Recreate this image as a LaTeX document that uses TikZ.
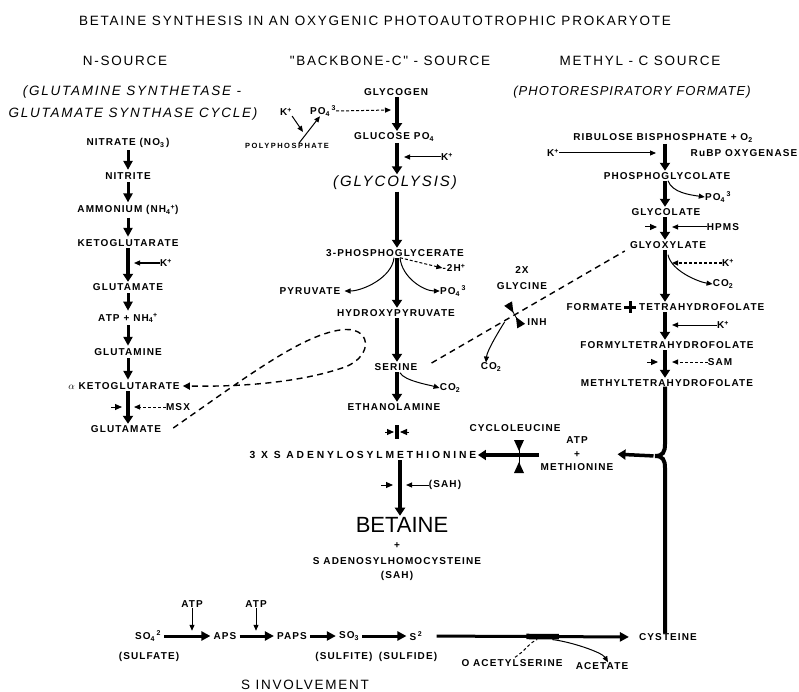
\documentclass[tikz,border=0pt]{standalone}
\usepackage{fontspec}
\setmainfont{Liberation Sans}
\newfontfamily\hfont[LetterSpace=13]{Liberation Sans}
\newfontfamily\ifont[LetterSpace=8]{Liberation Sans}
\newfontfamily\lfont[LetterSpace=11]{Liberation Sans}
\newfontfamily\wfont[LetterSpace=28]{Liberation Sans}
\newfontfamily\pfont[LetterSpace=20]{Liberation Sans}
\usetikzlibrary{arrows.meta,calc}
\newcommand\sbs[1]{\textsubscript{#1}}
\newcommand\sps[1]{\textsuperscript{#1}}
\begin{document}
\begin{tikzpicture}[x=1pt,y=-1pt,
  lab/.style={font=\lfont\bfseries\fontsize{10}{12}\selectfont, inner sep=0pt},
  widelab/.style={font=\wfont\bfseries\fontsize{10.3}{12}\selectfont, inner sep=0pt},
  hdr/.style={font=\hfont\fontsize{13.5}{16}\selectfont, inner sep=0pt},
  ital/.style={font=\hfont\itshape\fontsize{13.5}{16}\selectfont, inner sep=0pt},
  itm/.style={font=\ifont\itshape\fontsize{13}{16}\selectfont, inner sep=0pt},
  gly/.style={font=\hfont\itshape\fontsize{15}{18}\selectfont, inner sep=0pt},
  bigarr/.style={line width=3.5pt,-{Triangle[width=10pt,length=8pt]},shorten <=1.5pt,shorten >=1.5pt},
  narr/.style={line width=3pt,-{Triangle[width=9pt,length=9pt]},shorten <=2.5pt,shorten >=2.5pt},
  sarr/.style={line width=3pt,-{Triangle[width=9pt,length=9pt]},shorten <=3pt,shorten >=3pt},
  thinarr/.style={line width=1pt,-{Triangle[width=5pt,length=6pt]}},
  dasharr/.style={thinarr,dash pattern=on 3pt off 2pt},
  stub/.style={line width=1pt,-{Triangle[width=6pt,length=7pt]}},
  dline/.style={line width=1.4pt,dash pattern=on 6pt off 4.5pt},
]
\fill[white] (0,0) rectangle (799,692);
\useasboundingbox (0,0) rectangle (799,692);

% ---------- titles ----------
\node[hdr] (title) at (375,21) {BETAINE SYNTHESIS IN AN OXYGENIC PHOTOAUTOTROPHIC PROKARYOTE};
\node[hdr] (hN) at (125,61) {N-SOURCE};
\node[hdr] (hB) at (390,61) {"BACKBONE-C" - SOURCE};
\node[hdr] (hM) at (640,61) {METHYL - C SOURCE};
\node[ital] (sN1) at (132,92) {(GLUTAMINE SYNTHETASE -};
\node[ital] (sN2) at (133,114) {GLUTAMATE SYNTHASE CYCLE)};
\node[itm] (sM) at (632,92) {(PHOTORESPIRATORY FORMATE)};

% ---------- N column ----------
\coordinate (nx) at (128,0);
\node[lab] (nitrate) at (128,143) {NITRATE (NO\sbs{3}\,)};
\node[lab] (nitrite) at (128,176) {NITRITE};
\node[lab] (ammon) at (128,210) {AMMONIUM (NH\sbs{4}\sps{+})};
\node[lab] (keto) at (128,243) {KETOGLUTARATE};
\node[lab] (glu1) at (128,287) {GLUTAMATE};
\node[lab] (atpnh) at (128,318) {ATP + NH\sbs{4}\sps{+}};
\node[lab] (gln) at (128,352) {GLUTAMINE};
\node[lab] (akg) at (124,386) {$\alpha$ KETOGLUTARATE};
\node[lab] (glu2) at (126,429) {GLUTAMATE};
\node[lab] (kp2) at (166,263) {K\sps{+}};
\node[lab] (msx) at (178,407) {MSX};

\draw[narr] (nitrate.south -| nx) -- (nitrite.north -| nx);
\draw[narr] (nitrite.south -| nx) -- (ammon.north -| nx);
\draw[narr] (ammon.south -| nx) -- (keto.north -| nx);
\draw[bigarr] (keto.south -| nx) -- (glu1.north -| nx);
\draw[narr] (glu1.south -| nx) -- (atpnh.north -| nx);
\draw[narr] (atpnh.south -| nx) -- (gln.north -| nx);
\draw[narr] (gln.south -| nx) -- (akg.north -| nx);
\draw[bigarr] (akg.south -| nx) -- (glu2.north -| nx);
\coordinate (jk) at (134,263);
\draw[thinarr] (kp2.west) -- (jk);
\coordinate (jm) at (134,407);
\draw[dasharr] (msx.west) -- (jm);
\coordinate (sm1) at (111,407); \coordinate (sm2) at (122,407);
\draw[stub] (sm1) -- (sm2);

% ---------- backbone column ----------
\coordinate (bx) at (397,0);
\coordinate (bx2) at (400,0);
\node[lab] (glycogen) at (396,92) {GLYCOGEN};
\node[lab] (glucose) at (394,137) {GLUCOSE PO\sbs{4}};
\node[gly] (glycol) at (395,183) {(GLYCOLYSIS)};
\node[lab] (pga) at (395,253) {3-PHOSPHOGLYCERATE};
\node[lab] (pyr) at (310,291) {PYRUVATE};
\node[lab] (h2) at (454,268) {-2H\sps{+}};
\node[lab] (po4b) at (453,291) {PO\sbs{4}\,\sps{3}};
\node[lab] (hpyr) at (396,313) {HYDROXYPYRUVATE};
\node[lab] (ser) at (396,367) {SERINE};
\node[lab] (co2a) at (450,388) {CO\sbs{2}};
\node[lab] (etha) at (394,407) {ETHANOLAMINE};
\node[widelab] (sam) at (363,455) {3 X S ADENYLOSYLMETHIONINE};
\node[lab] (sah1) at (445,485) {(SAH)};
\node[font=\fontsize{22}{26}\selectfont, inner sep=0pt] (betaine) at (402,525) {BETAINE};
\node[lab] (plus1) at (397,546) {+};
\node[lab] (sahcy) at (397,561) {S ADENOSYLHOMOCYSTEINE};
\node[lab] (sah2) at (397,576) {(SAH)};
\node[lab] (kp6) at (447,157) {K\sps{+}};
\node[lab] (kp1) at (286,112) {K\sps{+}};
\node[lab] (po4a) at (323,111) {PO\sbs{4}\,\sps{3}};
\node[font=\pfont\bfseries\fontsize{7.5}{9}\selectfont, inner sep=0pt] (poly) at (287,146) {POLYPHOSPHATE};

\draw[bigarr] (glycogen.south -| bx) -- (glucose.north -| bx);
\draw[bigarr] (glucose.south -| bx) -- (glycol.north -| bx);
\draw[bigarr] (glycol.south -| bx) -- (pga.north -| bx);
\draw[bigarr] (pga.south -| bx) -- (hpyr.north -| bx);
\draw[bigarr] (hpyr.south -| bx) -- (ser.north -| bx);
\draw[bigarr] (ser.south -| bx) -- (etha.north -| bx);
\draw[bigarr] (sam.south -| bx2) -- (betaine.north -| bx2);
\coordinate (jg) at (404,157);
\draw[thinarr] (kp6.west) -- (jg);
\coordinate (jpo) at (391,110);
\draw[dasharr] (po4a.east) -- (jpo);
\coordinate (jpp) at (303,132);
\draw[thinarr] (kp1.south east) -- (jpp);
\draw[thinarr] ([xshift=12pt]poly.north) -- ([xshift=-3pt]po4a.south);
\draw[thinarr] ($(pga.south -| bx)+(-3,1)$) .. controls +(-2,20) and +(18,0) .. ([xshift=4pt]pyr.east);
\draw[dasharr] ($(pga.south -| bx)+(3,1)$) -- (h2.west);
\draw[thinarr] ($(pga.south -| bx)+(3,1)$) .. controls +(2,20) and +(-16,0) .. (po4b.west);
\draw[thinarr] ($(ser.south -| bx)+(3,2)$) .. controls +(4,8) and +(-10,-3) .. (co2a.west);
\coordinate (js) at (406,485);
\draw[thinarr] (sah1.west) -- (js);
\coordinate (ss1) at (381,485); \coordinate (ss2) at (393,485);
\draw[stub] (ss1) -- (ss2);
% blocked step below ethanolamine
\coordinate (cr) at (397,432);
\draw[line width=4pt] ($(cr)+(0,-7)$) -- ($(cr)+(0,7)$);
\draw[stub] ($(cr)+(-12,0)$) -- ($(cr)+(-3,0)$);
\draw[stub] ($(cr)+(12,0)$) -- ($(cr)+(3,0)$);

% ---------- methyl column ----------
\coordinate (mx) at (665,0);
\node[lab] (rubp) at (663,138) {RIBULOSE BISPHOSPHATE + O\sbs{2}};
\node[lab] (kp3) at (553,153) {K\sps{+}};
\node[lab] (rubpo) at (744,153) {RuBP OXYGENASE};
\node[lab] (pglyc) at (667,176) {PHOSPHOGLYCOLATE};
\node[lab] (po4c) at (718,197) {PO\sbs{4}\,\sps{3}};
\node[lab] (glyc) at (666,212) {GLYCOLATE};
\node[lab] (hpms) at (723,227) {HPMS};
\node[lab] (glyox) at (668,245) {GLYOXYLATE};
\node[lab] (kp4) at (728,263) {K\sps{+}};
\node[lab] (co2b) at (723,284) {CO\sbs{2}};
\coordinate (bp) at (630,307);
\node[lab,anchor=east] (formate) at (622,307) {FORMATE};
\node[lab,anchor=west] (thf) at (639,307) {TETRAHYDROFOLATE};
\node[lab] (kp5) at (723,325) {K\sps{+}};
\node[lab] (fthf) at (667,345) {FORMYLTETRAHYDROFOLATE};
\node[lab] (samr) at (720,362) {SAM};
\node[lab] (mthf) at (667,383) {METHYLTETRAHYDROFOLATE};

\draw[bigarr] (rubp.south -| mx) -- (pglyc.north -| mx);
\draw[bigarr] (pglyc.south -| mx) -- (glyc.north -| mx);
\draw[bigarr] (glyc.south -| mx) -- (glyox.north -| mx);
\draw[bigarr] (glyox.south -| mx) -- (thf.north -| mx);
\draw[bigarr] (thf.south -| mx) -- (fthf.north -| mx);
\draw[bigarr] (fthf.south -| mx) -- (mthf.north -| mx);
\coordinate (jr) at (656,153);
\draw[thinarr] (kp3.east) -- (jr);
\draw[thinarr] ($(pglyc.south -| mx)+(3,1)$) .. controls +(4,12) and +(-14,-2) .. (po4c.west);
\coordinate (jh) at (672,227);
\draw[thinarr] (hpms.west) -- (jh);
\coordinate (sh1) at (645,227); \coordinate (sh2) at (657,227);
\draw[stub] (sh1) -- (sh2);
\coordinate (jk4) at (672,263);
\draw[dasharr] (kp4.west) -- (jk4);
\draw[thinarr] ($(glyox.south -| mx)+(3,6)$) .. controls +(3,16) and +(-14,-2) .. (co2b.west);
\coordinate (jk5) at (672,325);
\draw[thinarr] (kp5.west) -- (jk5);
\coordinate (jsm) at (672,362);
\draw[dasharr] (samr.west) -- (jsm);
\coordinate (ss3) at (647,362); \coordinate (ss4) at (658,362);
\draw[stub] (ss3) -- (ss4);
\draw[line width=3pt] ($(bp)+(-6,0)$) -- ($(bp)+(6,0)$);
\draw[line width=3pt] ($(bp)+(0,-6)$) -- ($(bp)+(0,6)$);

% ---------- methionine, cycloleucine ----------
\node[lab,align=center] (atpm) at (577,454) {ATP\\[1.5pt]+\\[1.5pt]METHIONINE};
\node[lab] (cyclo) at (515,428) {CYCLOLEUCINE};
\node[lab] (cys) at (668,637) {CYSTEINE};
\coordinate (br1) at (665,444);
\coordinate (brj) at (655,456);
\coordinate (br2) at (665,468);
\draw[line width=4pt] (mthf.south -| mx) -- (br1) .. controls +(0,8) and +(8,0) .. (brj) .. controls +(8,0) and +(0,-8) .. (br2) -- (cys.north -| mx);
\draw[bigarr,shorten >=4pt] (brj) -- (atpm.east);
\draw[bigarr] (sam.east -| atpm.west) -- (sam.east);
\coordinate (cl) at (519,456);
\draw[line width=1pt] ($(cl)+(0,-15)$) -- ($(cl)+(0,16)$);
\fill ($(cl)+(-5,-16)$) -- ($(cl)+(5,-16)$) -- ($(cl)+(0,-5)$) -- cycle;
\fill ($(cl)+(-5,17)$) -- ($(cl)+(5,17)$) -- ($(cl)+(0,6)$) -- cycle;

% ---------- glycine / INH ----------
\node[lab] (x2) at (522,270) {2X};
\node[lab] (glycine) at (522,286) {GLYCINE};
\node[lab] (inh) at (537,322) {INH};
\node[lab] (co2c) at (491,367) {CO\sbs{2}};
\coordinate (dsA) at ($(ser.east)+(14,-4)$);
\coordinate (dsB) at ($(glyox.west)+(-5,6)$);
\draw[dline] (dsA) -- (dsB);
\coordinate (ih) at ($(dsA)!0.43!(dsB)$);
\coordinate (ihT1) at ($(ih)!2.5pt!90:(dsB)$);
\coordinate (ihB1) at ($(ih)!13pt!90:(dsB)$);
\coordinate (ihT2) at ($(ih)!2.5pt!-90:(dsB)$);
\coordinate (ihB2) at ($(ih)!13pt!-90:(dsB)$);
\fill ($(ihB1)!4.5pt!90:(ih)$) -- ($(ihB1)!4.5pt!-90:(ih)$) -- (ihT1) -- cycle;
\fill ($(ihB2)!4.5pt!90:(ih)$) -- ($(ihB2)!4.5pt!-90:(ih)$) -- (ihT2) -- cycle;
\draw[line width=0.8pt] (ihB1) -- (ihB2);
\draw[thinarr] ($(ih)+(-10,7)$) .. controls +(-5,8) and +(1,-12) .. ([xshift=-5pt]co2c.north);

% ---------- dashed loop (N column) ----------
\draw[dline,-{Triangle[width=7pt,length=7pt]}] ($(glu2.east)+(12,-1)$) .. controls (245,378) and (300,336) .. (340,330) .. controls (372,325) and (374,356) .. (345,367) .. controls (305,381) and (250,387) .. ($(akg.east)+(3,0)$);

% ---------- S involvement ----------
\node[lab] (so4) at (148,636) {SO\sbs{4}\,\sps{2}};
\node[lab] (sulfate) at (149,657) {(SULFATE)};
\node[lab] (atp1) at (192,604) {ATP};
\node[lab] (aps) at (225,636) {APS};
\node[lab] (atp2) at (256,604) {ATP};
\node[lab] (paps) at (292,636) {PAPS};
\node[lab] (so3) at (349,636) {SO\sbs{3}};
\node[lab] (s2) at (416,636) {S\,\sps{2}};
\node[lab] (sulfite) at (344,657) {(SULFITE)};
\node[lab] (sulfide) at (408,657) {(SULFIDE)};
\node[hdr] (sinv) at (305,685) {S INVOLVEMENT};
\node[lab] (oas) at (512,663) {O ACETYLSERINE};
\node[lab] (acet) at (602,666) {ACETATE};

\draw[sarr] (so4.east) -- (aps.west);
\draw[sarr] (aps.east) -- (paps.west);
\draw[sarr] (paps.east) -- (so3.west);
\draw[sarr] (so3.east) -- (s2.west);
\draw[thinarr] (atp1.south) -- (atp1.south |- so4.north);
\draw[thinarr] (atp2.south) -- (atp2.south |- so4.north);
\draw[sarr,shorten <=14pt,shorten >=10pt] (s2.east) -- (cys.west);
\draw[line width=5.5pt] ($(s2.east)!0.48!(cys.west)$) -- ($(s2.east)!0.63!(cys.west)$);
\draw[line width=1pt,dash pattern=on 3pt off 2.5pt] ($(oas.north)+(3,-2)$) .. controls +(10,-6) and +(-8,3) .. ($(s2.east)!0.53!(cys.west)+(0,3)$);
\draw[thinarr] ($(s2.east)!0.6!(cys.west)+(0,3)$) .. controls +(18,2) and +(-6,-10) .. ([xshift=6pt]acet.north);
\end{tikzpicture}
\end{document}
